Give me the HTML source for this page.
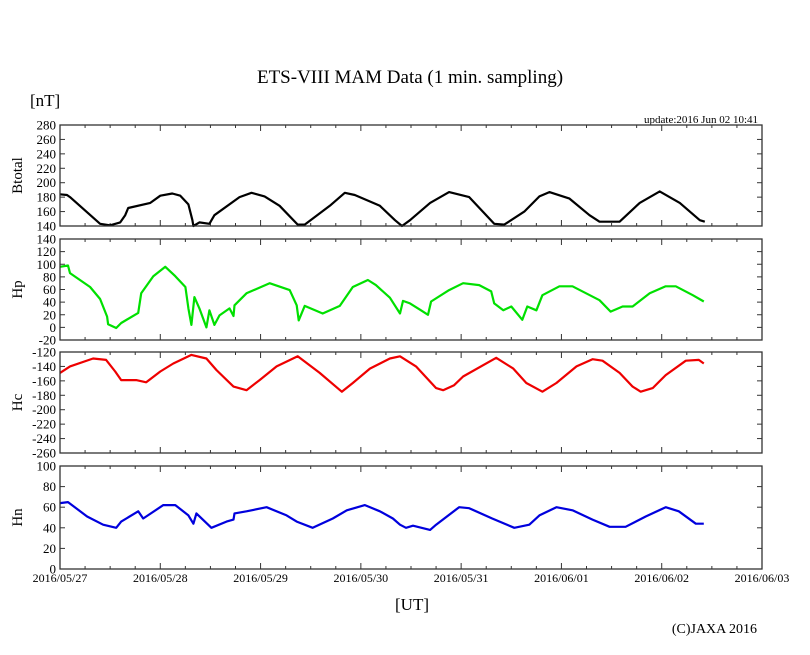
<!DOCTYPE html>
<html><head><meta charset="utf-8"><style>
body{margin:0;background:#fff}
svg{display:block;font-family:"Liberation Serif",serif}
</style></head><body>
<svg id="chart" width="810" height="655" viewBox="0 0 810 655">
<rect width="810" height="655" fill="#fff"/>
<text x="410" y="83" font-size="19" text-anchor="middle">ETS-VIII MAM Data (1 min. sampling)</text>
<text x="30" y="106" font-size="17">[nT]</text>
<text x="758" y="123" font-size="11" text-anchor="end">update:2016 Jun 02 10:41</text>
<text x="412" y="610" font-size="17" text-anchor="middle">[UT]</text>
<text x="757" y="633" font-size="14" text-anchor="end">(C)JAXA 2016</text>
<g id="plots"></g>
</svg>
<script>
const dayLabels = ["2016/05/27","2016/05/28","2016/05/29","2016/05/30","2016/05/31","2016/06/01","2016/06/02","2016/06/03"];
const panelNames = ["Btotal","Hp","Hc","Hn"];
const panelMin = [140,-20,-260,0];
const panelMax = [280,140,-120,100];
const panelStep = [20,20,20,20];
const panelColors = ["#000000","#00e000","#ee0000","#0000dd"];
const btT = [0,.07,.10,.40,.50,.60,.65,.68,.90,1.0,1.12,1.2,1.28,1.32,1.33,1.39,1.49,1.54,1.79,1.91,2.04,2.19,2.37,2.44,2.69,2.84,2.94,3.19,3.34,3.41,3.49,3.69,3.88,4.08,4.33,4.43,4.63,4.78,4.88,5.08,5.28,5.38,5.58,5.78,5.98,6.18,6.38,6.43];
const btV = [184,183,180,143,141,145,155,165,172,182,185,182,170,148,140,145,143,155,180,186,181,168,142,142,168,186,183,168,148,140,148,172,187,180,143,142,160,181,187,178,155,146,146,172,188,172,148,146];
const hpT = [0,.08,.10,.30,.40,.47,.48,.56,.61,.78,.81,.93,1.05,1.15,1.25,1.28,1.31,1.34,1.39,1.46,1.49,1.54,1.59,1.69,1.73,1.74,1.86,2.09,2.29,2.36,2.38,2.44,2.62,2.79,2.92,3.07,3.15,3.29,3.39,3.42,3.49,3.59,3.67,3.70,3.88,4.02,4.18,4.30,4.33,4.42,4.50,4.61,4.66,4.75,4.81,4.98,5.11,5.38,5.49,5.61,5.71,5.88,6.04,6.14,6.31,6.42];
const hpV = [96,98,86,64,45,17,5,-1,7,23,54,81,96,81,64,30,4,48,30,0,27,4,19,30,18,35,54,70,59,35,11,34,22,34,64,75,67,47,22,42,38,28,20,41,59,70,67,57,38,27,33,12,33,27,51,65,65,43,25,33,33,54,65,65,51,41];
const hcT = [0,.10,.33,.46,.55,.61,.76,.86,1.0,1.13,1.31,1.46,1.56,1.73,1.86,1.99,2.16,2.37,2.59,2.81,2.92,3.09,3.29,3.39,3.55,3.75,3.82,3.93,4.02,4.35,4.52,4.65,4.81,4.95,5.15,5.31,5.41,5.58,5.71,5.79,5.91,6.04,6.24,6.37,6.42];
const hcV = [-149,-140,-129,-131,-147,-159,-159,-162,-147,-136,-124,-129,-145,-168,-173,-159,-140,-126,-149,-175,-163,-143,-129,-126,-140,-170,-173,-166,-154,-128,-143,-163,-175,-163,-140,-130,-132,-149,-168,-175,-170,-152,-132,-131,-136];
const hnT = [0,.08,.27,.43,.56,.61,.78,.83,1.03,1.15,1.28,1.33,1.36,1.51,1.66,1.73,1.74,1.86,2.06,2.26,2.36,2.52,2.72,2.86,3.04,3.19,3.32,3.39,3.45,3.52,3.69,3.75,3.98,4.08,4.31,4.53,4.68,4.78,4.95,5.11,5.31,5.48,5.64,5.84,6.04,6.17,6.34,6.42];
const hnV = [64,65,51,43,40,46,56,49,62,62,52,44,54,40,46,48,54,56,60,52,46,40,49,57,62,56,49,43,40,42,38,43,60,59,49,40,43,52,60,57,48,41,41,51,60,56,44,44];
const seriesT = [btT,hpT,hcT,hnT];
const seriesV = [btV,hpV,hcV,hnV];

const NS = "http://www.w3.org/2000/svg";
const X0 = 60, X1 = 762, DAYS = 7;
const panelTop = [125,239,352,466];
const panelBot = [226,340,453,569];
const xScale = d => X0 + (X1 - X0) * d / DAYS;
const g = document.getElementById('plots');
function mk(tag, attrs){const e=document.createElementNS(NS,tag);for(const k in attrs)e.setAttribute(k,attrs[k]);return e;}

for(let p=0;p<4;p++){
  const top=panelTop[p], bot=panelBot[p], mn=panelMin[p], mx=panelMax[p];
  const yScale = v => bot - (bot-top)*(v-mn)/(mx-mn);
  const pg = mk('g',{});
  
  
  g.appendChild(pg);
  for(let v=mn; v<=mx+0.001; v+=panelStep[p]){
    const y=yScale(v);
    pg.appendChild(mk('line',{x1:X0,x2:X0+5,y1:y,y2:y,stroke:'#333','stroke-width':1}));
    pg.appendChild(mk('line',{x1:X1-5,x2:X1,y1:y,y2:y,stroke:'#333','stroke-width':1}));
    const t=mk('text',{x:X0-4,y:y+4.5,'font-size':13,'text-anchor':'end'});
    t.textContent=v;
    
    
    pg.appendChild(t);
  }
  for(let q=0;q<=DAYS*4;q++){
    const x=xScale(q/4), len = q%4===0?6:3;
    pg.appendChild(mk('line',{x1:x,x2:x,y1:bot,y2:bot-len,stroke:'#333','stroke-width':1}));
    pg.appendChild(mk('line',{x1:x,x2:x,y1:top,y2:top+len,stroke:'#333','stroke-width':1}));
  }
  const T=seriesT[p], V=seriesV[p];
  let d='';
  for(let i=0;i<T.length;i++){ d += (i?'L':'M') + xScale(T[i]).toFixed(1) + ',' + yScale(V[i]).toFixed(1); }
  const path = mk('path',{d:d,fill:'none',stroke:panelColors[p],'stroke-width':2.2,'stroke-linejoin':'round'});
  
  
  pg.appendChild(path);
  const frame = mk('rect',{x:X0,y:top,width:X1-X0,height:bot-top,fill:'none',stroke:'#333','stroke-width':1.3});
  
  
  pg.appendChild(frame);
  const yt = mk('text',{x:0,y:0,'font-size':15,'text-anchor':'middle',transform:'translate(22,'+((top+bot)/2)+') rotate(-90)'});
  yt.textContent = panelNames[p];
  
  
  pg.appendChild(yt);
}
for(let i=0;i<dayLabels.length;i++){
  const t=mk('text',{x:xScale(i),y:582,'font-size':12,'text-anchor':'middle'});
  t.textContent=dayLabels[i];
  
  
  g.appendChild(t);
}
</script>
</body></html>
